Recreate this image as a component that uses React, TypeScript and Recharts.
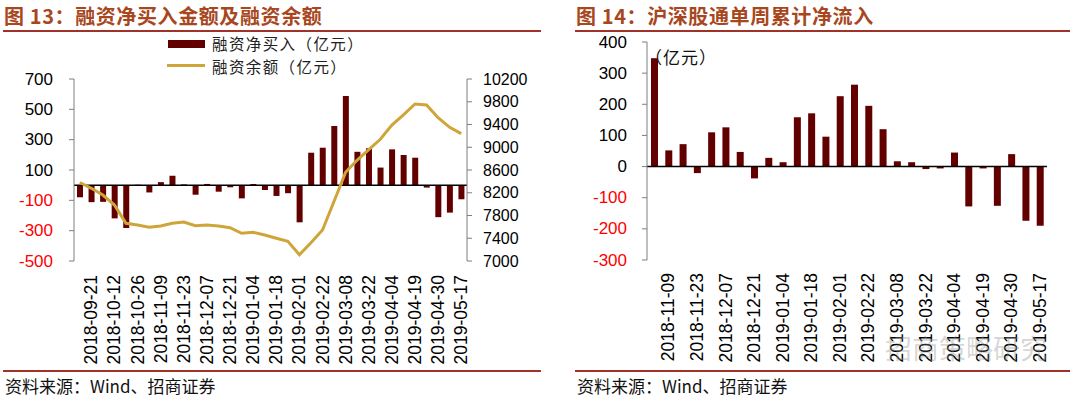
import React from 'react';
import { ComposedChart, BarChart, Bar, Line, XAxis, YAxis, ReferenceLine } from 'recharts';

// 图13: 融资净买入 / 融资余额 (weekly)
const marginDates = [
  '2018-09-14', '2018-09-21', '2018-09-28', '2018-10-12', '2018-10-19', '2018-10-26',
  '2018-11-02', '2018-11-09', '2018-11-16', '2018-11-23', '2018-11-30', '2018-12-07',
  '2018-12-14', '2018-12-21', '2018-12-28', '2019-01-04', '2019-01-11', '2019-01-18',
  '2019-01-25', '2019-02-01', '2019-02-15', '2019-02-22', '2019-03-01', '2019-03-08',
  '2019-03-15', '2019-03-22', '2019-03-29', '2019-04-04', '2019-04-12', '2019-04-19',
  '2019-04-26', '2019-04-30', '2019-05-10', '2019-05-17',
];
const marginNetBuy = [
  -80, -112, -110, -219, -282, 3, -48, 20, 62, 5, -63, 8,
  -43, -14, -87, 8, -32, -71, -53, -245, 214, 247, 390, 588,
  220, 243, 116, 236, 199, 181, -16, -211, -181, -93,
];
const marginBalance = [
  8380, 8278, 8160, 7984, 7662, 7633, 7592, 7615, 7662, 7685, 7620, 7633,
  7615, 7585, 7487, 7504, 7457, 7400, 7346, 7110, 7320, 7545, 8050, 8560,
  8775, 8960, 9140, 9390, 9570, 9760, 9742, 9520, 9350, 9240,
];
const netBuyTicks = [-500, -300, -100, 100, 300, 500, 700];
const balanceTicks = [7000, 7400, 7800, 8200, 8600, 9000, 9400, 9800, 10200];

// 图14: 沪深股通单周累计净流入
const flowDates = [
  '2018-11-02', '2018-11-09', '2018-11-16', '2018-11-23', '2018-11-30', '2018-12-07',
  '2018-12-14', '2018-12-21', '2018-12-28', '2019-01-04', '2019-01-11', '2019-01-18',
  '2019-01-25', '2019-02-01', '2019-02-15', '2019-02-22', '2019-03-01', '2019-03-08',
  '2019-03-15', '2019-03-22', '2019-03-29', '2019-04-04', '2019-04-12', '2019-04-19',
  '2019-04-26', '2019-04-30', '2019-05-10', '2019-05-17',
];
const flowValues = [
  348, 52, 72, -21, 110, 126, 47, -38, 28, 14, 158, 171,
  96, 226, 263, 195, 120, 17, 14, -8, -6, 45, -128, -6,
  -126, 40, -174, -190,
];
const flowTicks = [-300, -200, -100, 0, 100, 200, 300, 400];

const marginRows = marginDates.map((date, i) => ({ date, netBuy: marginNetBuy[i], balance: marginBalance[i] }));
const flowRows = flowDates.map((date, i) => ({ date, flow: flowValues[i] }));

const BAR = '#620000';
const GOLD = '#CFA53A';
const RULE = '#A0322A';
const AXIS = '#7f7f7f';
const LATIN = '"Liberation Sans", Arial, sans-serif';
const CJK = '"Noto Sans CJK SC", sans-serif';

// every other date, starting from the second one
const DateTick = (props: any) => {
  const { x, y, payload, index } = props;
  if (index % 2 === 0) return <g />;
  return (
    <g transform={`translate(${x},${y})`}>
      <text transform="rotate(-90)" textAnchor="end" dominantBaseline="central" fontSize={17.5} fill="#000" fontFamily={LATIN}>
        {payload.value}
      </text>
    </g>
  );
};

const ValueTick = (props: any) => {
  const { x, y, payload, textAnchor, size } = props;
  return (
    <text x={x} y={y} textAnchor={textAnchor} dominantBaseline="central" fontSize={size || 17}
      fill={payload.value < 0 ? '#FF0000' : '#000'} fontFamily={LATIN}>
      {payload.value}
    </text>
  );
};

const Title = ({ left, text }: { left: number; text: string }) => (
  <div style={{ position: 'absolute', left, top: 3, fontFamily: CJK, fontWeight: 700, fontSize: 20, letterSpacing: 0.6, color: '#A8471E', whiteSpace: 'nowrap', lineHeight: '26px' }}>
    {text}
  </div>
);

const Rule = ({ left, width, top }: { left: number; width: number; top: number }) => (
  <div style={{ position: 'absolute', left, top, width, height: 2, background: RULE }} />
);

const Source = ({ left }: { left: number }) => (
  <div style={{ position: 'absolute', left, top: 375, fontFamily: CJK, fontSize: 17, color: '#111', whiteSpace: 'nowrap', lineHeight: '22px' }}>
    资料来源：Wind、招商证券
  </div>
);

const legendText: React.CSSProperties = {
  position: 'absolute', left: 212, fontFamily: CJK, fontSize: 15.5, letterSpacing: 1.4,
  color: '#222', lineHeight: '20px', height: 20, whiteSpace: 'nowrap',
};

export default function App() {
  return (
    <div style={{ position: 'absolute', left: 0, top: 0, width: 1080, height: 398, background: '#fff', overflow: 'hidden' }}>
      <Title left={4} text="图 13：融资净买入金额及融资余额" />
      <Title left={576} text="图 14：沪深股通单周累计净流入" />
      <Rule left={3} width={538} top={30} />
      <Rule left={575} width={495} top={30} />
      <Rule left={3} width={538} top={370} />
      <Rule left={575} width={495} top={370} />
      <Source left={5} />
      <Source left={577} />

      {/* legend of chart 13 */}
      <div style={{ position: 'absolute', left: 168, top: 40, width: 37, height: 8, background: BAR }} />
      <div style={{ ...legendText, top: 33 }}>融资净买入（亿元）</div>
      <div style={{ position: 'absolute', left: 167, top: 64, width: 38, height: 3, background: GOLD }} />
      <div style={{ ...legendText, top: 56 }}>融资余额（亿元）</div>

      <div style={{ position: 'absolute', left: 0, top: 0 }}>
        <ComposedChart width={540} height={398} data={marginRows} margin={{ top: 79, right: 0, bottom: 0, left: 0 }}>
          <XAxis dataKey="date" height={137} interval={0} axisLine={false} tickLine={false} tickSize={0} tickMargin={14} tick={DateTick} />
          <YAxis yAxisId="left" width={74} domain={[-500, 700]} ticks={netBuyTicks} interval={0}
            axisLine={{ stroke: AXIS }} tickLine={{ stroke: AXIS }} tickSize={5} tickMargin={16} tick={<ValueTick />} />
          <YAxis yAxisId="right" orientation="right" width={73} domain={[7000, 10200]} ticks={balanceTicks} interval={0}
            axisLine={{ stroke: AXIS }} tickLine={{ stroke: AXIS }} tickSize={5} tickMargin={11} tick={<ValueTick size={16} />} />
          <Bar yAxisId="left" dataKey="netBuy" fill={BAR} barSize={6} isAnimationActive={false} />
          <ReferenceLine yAxisId="left" y={0} stroke="#000" strokeWidth={1.5} />
          <Line yAxisId="right" dataKey="balance" type="linear" stroke={GOLD} strokeWidth={3} dot={false} isAnimationActive={false} />
        </ComposedChart>
      </div>

      <div style={{ position: 'absolute', left: 645, top: 47, fontFamily: CJK, fontSize: 17, letterSpacing: 1, color: '#111', lineHeight: '20px', whiteSpace: 'nowrap' }}>
        （亿元）
      </div>

      <div style={{ position: 'absolute', left: 540, top: 0 }}>
        <BarChart width={540} height={398} data={flowRows} margin={{ top: 42, right: 33, bottom: 0, left: 0 }}>
          <XAxis dataKey="date" height={138} interval={0} axisLine={false} tickLine={false} tickSize={0} tickMargin={13} tick={DateTick} />
          <YAxis width={107} domain={[-300, 400]} ticks={flowTicks} interval={0}
            axisLine={{ stroke: AXIS }} tickLine={{ stroke: AXIS }} tickSize={5} tickMargin={15} tick={<ValueTick />} />
          <Bar dataKey="flow" fill={BAR} barSize={7} isAnimationActive={false} />
          <ReferenceLine y={0} stroke="#000" strokeWidth={1.5} />
        </BarChart>
      </div>

      {/* watermark */}
      <div style={{ position: 'absolute', left: 885, top: 331, fontFamily: CJK, fontSize: 27, color: 'rgba(150,150,150,0.4)', whiteSpace: 'nowrap', lineHeight: '34px' }}>
        招商策略研究
      </div>
    </div>
  );
}
